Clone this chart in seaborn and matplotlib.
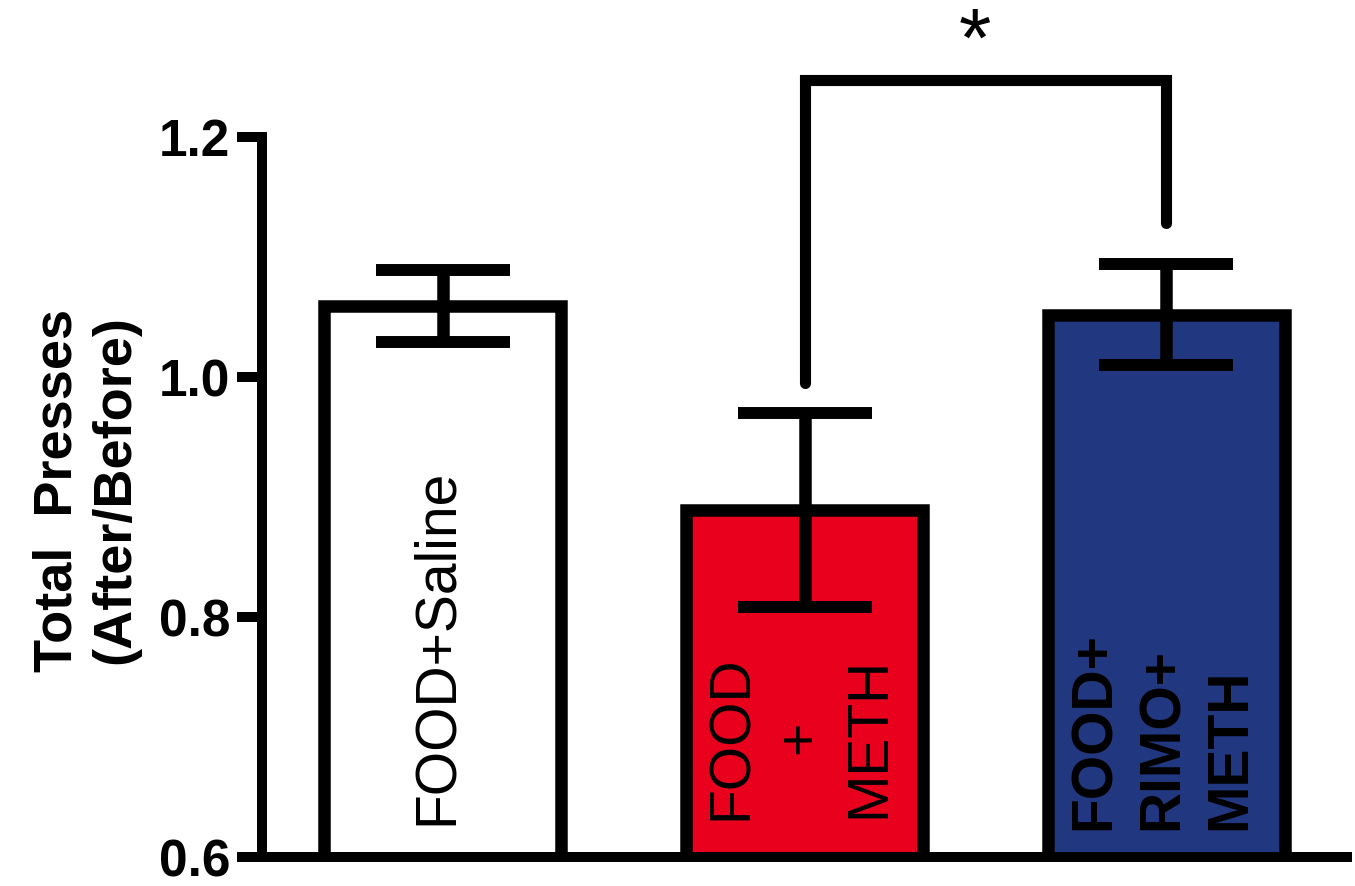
import seaborn as sns
import pandas as pd
import matplotlib.pyplot as plt

groups = ['FOOD+Saline', 'FOOD+METH', 'FOOD+RIMO+METH']
bar_labels = ['FOOD+Saline', 'FOOD\n+\nMETH', 'FOOD+\nRIMO+\nMETH']
means = [1.059, 0.889, 1.052]
sems = [0.030, 0.081, 0.042]
colors = ['#FFFFFF', '#E8001C', '#213780']
yticks = [0.6, 0.8, 1.0, 1.2]

sns.set_style('ticks')
plt.rcParams['font.family'] = ['Liberation Sans', 'DejaVu Sans']
for key in ['text.color', 'axes.labelcolor', 'xtick.color', 'ytick.color', 'axes.edgecolor']:
    plt.rcParams[key] = 'black'

df = pd.DataFrame({'group': groups, 'ratio': means})

fig = plt.figure(figsize=(13.55, 8.86), dpi=100)
ax = fig.add_axes([0.1934, 0.0327, 0.8007, 0.9481])

sns.barplot(data=df, x='group', y='ratio', hue='group', palette=colors,
            saturation=1, width=0.655, edgecolor='black', linewidth=9,
            legend=False, errorbar=None, ax=ax, zorder=2)
ax.errorbar(range(len(groups)), means, yerr=sems, fmt='none', ecolor='black',
            elinewidth=9, capsize=48, capthick=8.6, zorder=3)

# labels written inside the bars
ax.text(-0.017, 0.627, bar_labels[0], rotation=90, ha='center', va='bottom',
        fontsize=41, zorder=4)
ax.text(0.988, 0.631, bar_labels[1], rotation=90, ha='center', va='bottom',
        multialignment='center', linespacing=1.35, fontsize=41, zorder=4)
ax.text(1.99, 0.6225, bar_labels[2], rotation=90, ha='center', va='bottom',
        multialignment='left', linespacing=1.33, fontsize=41,
        fontweight='bold', zorder=4)

# significance bracket
ax.plot([1, 1, 2, 2], [0.995, 1.2475, 1.2475, 1.128], color='black', lw=8,
        solid_capstyle='round', solid_joinstyle='miter', clip_on=False, zorder=3)
ax.text(1.472, 1.277, '*', ha='center', va='center', fontsize=60, clip_on=False)

ax.set_xlim(-0.5, 2.5)
ax.set_ylim(0.6, 1.3)
ax.set_yticks(yticks)
ax.set_yticklabels([f'{t:.1f}' for t in yticks], fontsize=37, fontweight='bold')
ax.set_xticks([])
ax.set_xlabel('')
ax.set_ylabel('Total  Presses\n(After/Before)', fontsize=39, fontweight='bold')
ax.yaxis.set_label_coords(-0.1124, 0.437)
ax.tick_params(axis='y', length=18, width=7.2, pad=5, color='black')
sns.despine(ax=ax)
ax.spines['left'].set_bounds(0.6, 1.2)
for s in ['left', 'bottom']:
    ax.spines[s].set_linewidth(7.2)
    ax.spines[s].set_color('black')

fig.savefig('out.png', dpi=100, facecolor='white')
